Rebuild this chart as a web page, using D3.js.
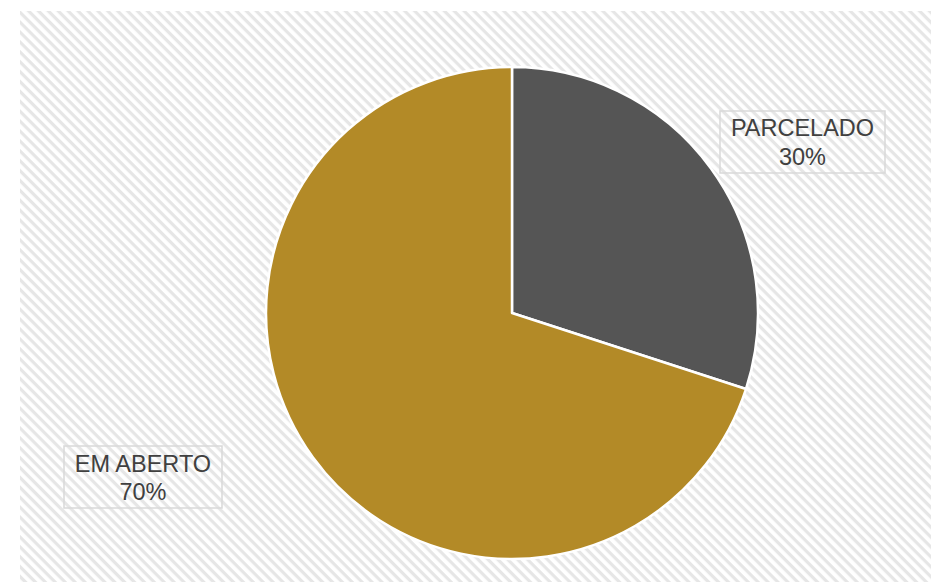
<!DOCTYPE html>
<html><head><meta charset="utf-8">
<script src="https://cdn.jsdelivr.net/npm/d3@7"></script>
<style>html,body{margin:0;padding:0;background:#fff;}svg{display:block;}</style>
</head><body>
<svg id="c" width="931" height="582"></svg>
<script>
const categories = ["PARCELADO", "EM ABERTO"];
const values = [30, 70];
const colors = ["#555555", "#B38A27"];

const svg = d3.select("#c");
const defs = svg.append("defs");
const pat = defs.append("pattern").attr("id","hatch").attr("patternUnits","userSpaceOnUse")
  .attr("width",7).attr("height",7).attr("patternTransform","rotate(45)");
pat.append("rect").attr("width",7).attr("height",7).attr("fill","#ffffff");
pat.append("rect").attr("x",0).attr("y",0).attr("width",7).attr("height",3.2).attr("fill","#e6e6e6");

svg.append("rect").attr("x",20).attr("y",11).attr("width",911).attr("height",571).attr("fill","url(#hatch)");

const cx = 512, cy = 313, r = 246;
const pie = d3.pie().sort(null).value(d=>d);
const arcs = pie(values);
const arc = d3.arc().innerRadius(0).outerRadius(r);
const g = svg.append("g").attr("transform",`translate(${cx},${cy})`);
g.selectAll("path").data(arcs).enter().append("path")
  .attr("d",arc).attr("fill",(d,i)=>colors[i])
  .attr("stroke","#ffffff").attr("stroke-width",2.5).attr("stroke-linejoin","round");

const labels = [
  {x:720, y:111, w:165, h:62, tx:802.5, b1:136, b2:165},
  {x:64, y:446, w:158, h:62, tx:143, b1:472, b2:500}
];
labels.forEach((L,i)=>{
  const lg = svg.append("g");
  lg.append("rect").attr("x",L.x).attr("y",L.y).attr("width",L.w).attr("height",L.h)
    .attr("fill","none").attr("stroke","#d9d9d9").attr("stroke-width",1.5);
  const t = lg.append("text").attr("text-anchor","middle")
    .attr("font-family","Liberation Sans, Arial, sans-serif").attr("font-size",23.5).attr("fill","#404040");
  t.append("tspan").attr("x",L.tx).attr("y",L.b1).text(categories[i]);
  t.append("tspan").attr("x",L.tx).attr("y",L.b2).text(Math.round(values[i]/d3.sum(values)*100)+"%");
});
</script>
</body></html>
